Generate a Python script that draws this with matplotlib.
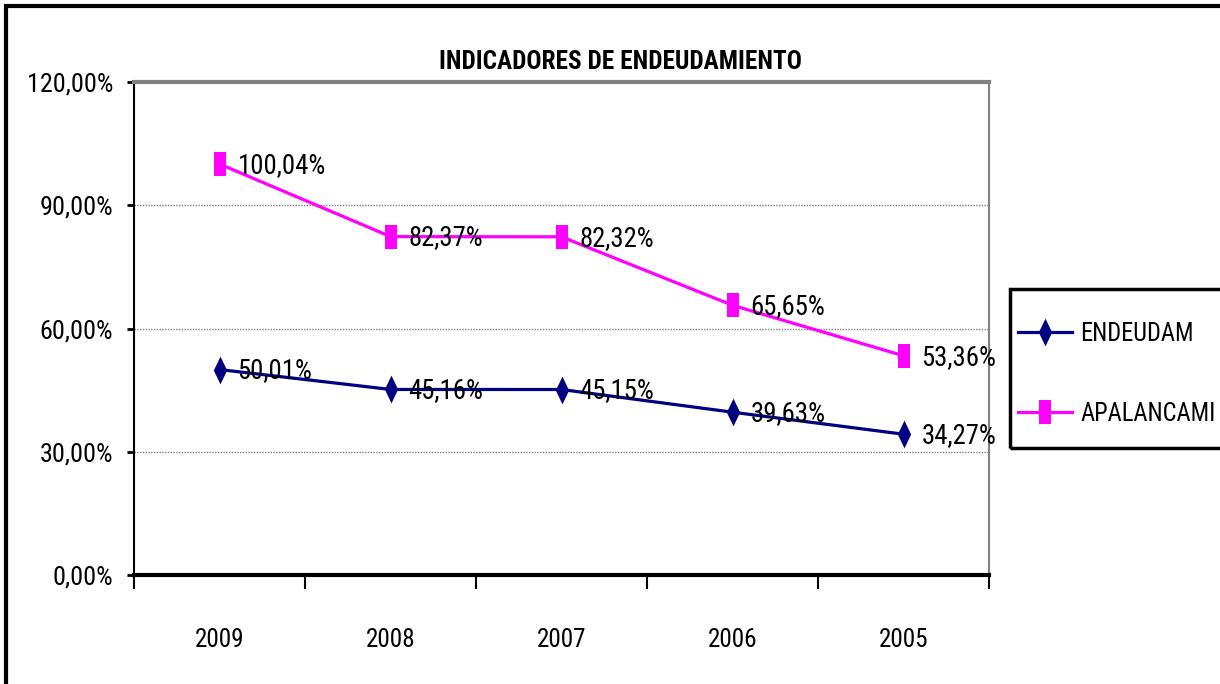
import matplotlib.pyplot as plt
from matplotlib import font_manager
from matplotlib.font_manager import FontProperties
from matplotlib.textpath import TextPath
from matplotlib.path import Path
from matplotlib.patches import Rectangle

years = ["2009", "2008", "2007", "2006", "2005"]
endeudam = [50.01, 45.16, 45.15, 39.63, 34.27]
apalancami = [100.04, 82.37, 82.32, 65.65, 53.36]
y_ticks = [0, 30, 60, 90, 120]


# pick the narrowest font we can find (reference uses Arial Narrow look)
def find_font(bold=False):
    fl = font_manager.fontManager.ttflist
    want_w = lambda f: (f.weight in (700, "bold")) == bold
    checks = [
        lambda f: f.name == "Liberation Sans Narrow",
        lambda f: f.name == "Roboto Condensed",
        lambda f: f.name == "Roboto" and "ondensed" in str(f.stretch),
        lambda f: f.name == "DejaVu Sans" and "ondensed" in str(f.stretch),
        lambda f: f.name == "Liberation Sans",
    ]
    for c in checks:
        for f in fl:
            if c(f) and want_w(f) and f.style == "normal":
                return f.fname
    return None


reg = find_font(False)
bld = find_font(True) or reg
prop_r = FontProperties(fname=reg) if reg else FontProperties(family="DejaVu Sans")
prop_b = FontProperties(fname=bld) if bld else FontProperties(family="DejaVu Sans", weight="bold")


def fit(prop, s, px):
    # font size (pt) so that string s is px pixels wide at dpi 100
    w = TextPath((0, 0), s, size=10, prop=prop).get_extents().width
    return 10 * px / (w * 100 / 72)


def fp(prop, size):
    p = prop.copy()
    p.set_size(size)
    return p


tick_fs = fit(prop_r, "120,00%", 83)
lab_fs = fit(prop_r, "100,04%", 85)
year_fs = fit(prop_r, "2009", 47)
title_fs = fit(prop_b, "INDICADORES DE ENDEUDAMIENTO", 360)
leg_fs = fit(prop_r, "APALANCAMI", 133)
em = leg_fs * 100 / 72  # legend font size in px

fig = plt.figure(figsize=(12.2, 6.84), dpi=100)
ax = fig.add_axes([134 / 1220, 1 - 575 / 684, (989 - 134) / 1220, (575 - 82) / 684])

diamond = Path([(0, -1), (0.48, 0), (0, 1), (-0.48, 0), (0, -1)])
rect = Path([(-0.5, -1), (0.5, -1), (0.5, 1), (-0.5, 1), (-0.5, -1)])

x = list(range(len(years)))
ax.plot(x, endeudam, color="#000080", lw=2.3, marker=diamond, ms=20, label="ENDEUDAM",
        markeredgewidth=0, clip_on=False)
ax.plot(x, apalancami, color="#ff00ff", lw=2.3, marker=rect, ms=17, label="APALANCAMI",
        markeredgewidth=0, clip_on=False)

# data labels
for series in (endeudam, apalancami):
    for xi, v in zip(x, series):
        ax.annotate(f"{v:.2f}%".replace(".", ","), (xi, v), xytext=(13, -1),
                    textcoords="offset points", va="center", ha="left",
                    fontproperties=fp(prop_r, lab_fs))

ax.set_xlim(-0.5, 4.5)
ax.set_ylim(0, 120)
ax.set_yticks(y_ticks)
ax.set_yticklabels([f"{t:.2f}%".replace(".", ",") for t in y_ticks])
for t in ax.get_yticklabels():
    t.set_fontproperties(fp(prop_r, tick_fs))
ax.set_xticks([i - 0.5 for i in range(len(years) + 1)])
ax.set_xticklabels([])
ax.set_xticks(x, minor=True)
ax.set_xticklabels(years, minor=True)
for t in ax.get_xticklabels(minor=True):
    t.set_fontproperties(fp(prop_r, year_fs))
ax.tick_params(axis="x", which="major", length=10, width=1.5, direction="out")
ax.tick_params(axis="x", which="minor", length=0, pad=38)
ax.tick_params(axis="y", length=5, width=2, direction="out", pad=10)

ax.grid(axis="y", color="#808080", linestyle=(0, (1, 1)), lw=1)
ax.set_axisbelow(True)
ax.spines["left"].set_color("black")
ax.spines["left"].set_linewidth(1.5)
ax.spines["bottom"].set_color("black")
ax.spines["bottom"].set_linewidth(3)
ax.spines["top"].set_color("#808080")
ax.spines["top"].set_linewidth(3)
ax.spines["right"].set_color("#808080")
ax.spines["right"].set_linewidth(1.5)

fig.text(620 / 1220, 1 - 62 / 684, "INDICADORES DE ENDEUDAMIENTO", ha="center", va="center",
         fontproperties=fp(prop_b, title_fs))

# legend entries without frame, box drawn separately
leg = fig.legend(loc="center left", bbox_to_anchor=(1018 / 1220, 1 - 374 / 684),
                 prop=fp(prop_r, leg_fs), frameon=False,
                 handlelength=54 / em, labelspacing=56 / em,
                 borderpad=0, handletextpad=8 / em, borderaxespad=0)
fig.patches.append(Rectangle((1010 / 1220, 1 - 448 / 684), 0.2, 159 / 684,
                             transform=fig.transFigure, fill=False, edgecolor="black", lw=2.5))

# outer chart frame
fig.patches.append(Rectangle((6 / 1220, -0.02), 1.1, 1 - 6 / 684 + 0.02, transform=fig.transFigure,
                             fill=False, edgecolor="black", lw=3))

fig.savefig("out.png", dpi=100)
